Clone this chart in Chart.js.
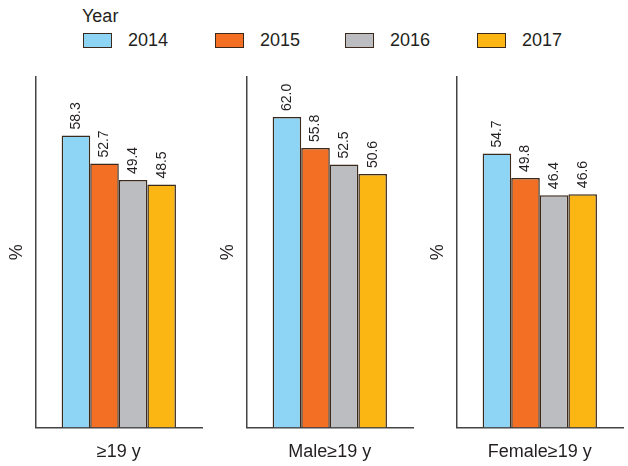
<!DOCTYPE html>
<html>
<head>
<meta charset="utf-8">
<script src="https://cdn.jsdelivr.net/npm/chart.js@4"></script>
<style>
  body { margin: 0; background: #fff; width: 628px; height: 466px; overflow: hidden; position: relative;
         font-family: "Liberation Sans", Arial, sans-serif; color: #231f20; }
  .panel { position: absolute; top: 70px; height: 410px; }
  #legendTitle { position: absolute; left: 82px; top: 6px; font-size: 18px; }
  .item { position: absolute; top: 29px; height: 22px; display: flex; align-items: center; font-size: 18px; }
  .box { width: 27px; height: 13px; border: 1px solid #3b2a1c; margin-right: 16px; }
</style>
</head>
<body>
<div id="legendTitle">Year</div>
<div id="legend"></div>
<div class="panel" style="left:0px;width:215px"><canvas id="c0"></canvas></div>
<div class="panel" style="left:211px;width:215px"><canvas id="c1"></canvas></div>
<div class="panel" style="left:421px;width:207px"><canvas id="c2"></canvas></div>
<script>
// data
const groups = ["≥19 y", "Male≥19 y", "Female≥19 y"];
const years = ["2014", "2015", "2016", "2017"];
const v2014 = [58.3, 62.0, 54.7];
const v2015 = [52.7, 55.8, 49.8];
const v2016 = [49.4, 52.5, 46.4];
const v2017 = [48.5, 50.6, 46.6];
const series = [v2014, v2015, v2016, v2017];

const colors = ["#8ed5f5", "#f26f23", "#bcbdc0", "#fbb614"];
const legendX = [83, 215, 345, 477];
const padRight = [13, 13, 5];

Chart.defaults.font.family = '"Liberation Sans", Arial, sans-serif';
Chart.defaults.color = "#231f20";

// html legend
const legendEl = document.getElementById("legend");
years.forEach((y, k) => {
  const item = document.createElement("div");
  item.className = "item";
  item.style.left = legendX[k] + "px";
  item.innerHTML = '<span class="box" style="background:' + colors[k] + '"></span><span>' + y + "</span>";
  legendEl.appendChild(item);
});

// value labels above bars, rotated
const valueLabels = {
  id: "valueLabels",
  afterDatasetsDraw(chart) {
    const ctx = chart.ctx;
    ctx.save();
    ctx.font = '14px "Liberation Sans", Arial, sans-serif';
    ctx.fillStyle = "#231f20";
    ctx.textAlign = "left";
    ctx.textBaseline = "middle";
    chart.data.datasets.forEach((ds, i) => {
      chart.getDatasetMeta(i).data.forEach((bar, j) => {
        ctx.save();
        ctx.translate(bar.x, bar.y - 6);
        ctx.rotate(-Math.PI / 2);
        ctx.fillText(ds.data[j].toFixed(1), 0, 0);
        ctx.restore();
      });
    });
    ctx.restore();
  },
};

groups.forEach((g, i) => {
  new Chart(document.getElementById("c" + i), {
    type: "bar",
    data: {
      labels: [g],
      datasets: years.map((y, k) => ({
        label: y,
        data: [series[k][i]],
        backgroundColor: colors[k],
        borderColor: "#3b2a1c",
        borderWidth: 1.5,
        categoryPercentage: 0.687,
        barPercentage: 1,
      })),
    },
    options: {
      responsive: true,
      maintainAspectRatio: false,
      animation: false,
      layout: { padding: { top: 7, bottom: 3, left: 6, right: padRight[i] } },
      plugins: { legend: { display: false }, tooltip: { enabled: false } },
      scales: {
        x: {
          grid: { display: false, drawTicks: false },
          border: { display: true, color: "#444", width: 1.5 },
          ticks: { font: { size: 18 }, padding: 14, color: "#231f20" },
        },
        y: {
          min: 0,
          max: 70,
          grid: { display: false, drawTicks: false },
          border: { display: true, color: "#444", width: 1.5 },
          ticks: { display: false },
          title: { display: true, text: "%", font: { size: 18 }, padding: { top: 0, bottom: 8 }, color: "#231f20" },
        },
      },
    },
    plugins: [valueLabels],
  });
});
</script>
</body>
</html>
